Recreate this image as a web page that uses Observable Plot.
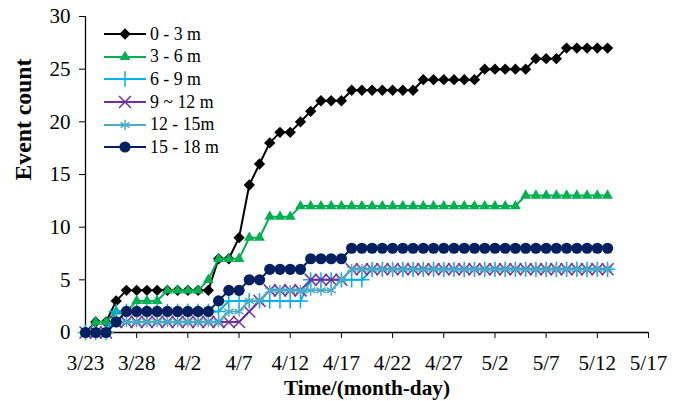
<!DOCTYPE html>
<html>
<head>
<meta charset="utf-8">
<script src="https://cdn.jsdelivr.net/npm/d3@7"></script>
<script src="https://cdn.jsdelivr.net/npm/@observablehq/plot@0.6"></script>
<style>
  html, body { margin: 0; padding: 0; background: #fff; }
  #wrap { position: relative; width: 683px; height: 401px; overflow: hidden; }
  #legend { position: absolute; left: 104px; top: 23px; }
  .row { display: flex; align-items: center; height: 22.6px; }
  .row span { margin-left: 4px; color: #000; white-space: pre; }
</style>
</head>
<body>
<div id="wrap"><div id="legend"></div></div>
<script>
const dates = ["3/23","3/24","3/25","3/26","3/27","3/28","3/29","3/30","3/31",
  "4/1","4/2","4/3","4/4","4/5","4/6","4/7","4/8","4/9","4/10","4/11","4/12","4/13","4/14","4/15",
  "4/16","4/17","4/18","4/19","4/20","4/21","4/22","4/23","4/24","4/25","4/26","4/27","4/28","4/29","4/30",
  "5/1","5/2","5/3","5/4","5/5","5/6","5/7","5/8","5/9","5/10","5/11","5/12","5/13"];

const seriesNames = ["0 - 3 m", "3 - 6 m", "6 - 9 m", "9 ~ 12 m", "12 - 15m", "15 - 18 m"];
const seriesColors = ["#000000", "#00B050", "#00B0F0", "#7030A0", "#4BACC6", "#002060"];
const seriesSymbols = ["diamond2", "triangle", "plus", "times", "asterisk", "circle"];

const s0_3 = [0,1,1,3,4,4,4,4,4,4,4,4,4,7,7,9,14,16,18,19,19,20,21,22,22,22,
  23,23,23,23,23,23,23,24,24,24,24,24,24,25,25,25,25,25,26,26,26,27,27,27,27,27];
const s3_6 = [0,1,1,2,2,3,3,3,4,4,4,4,5,7,7,7,9,9,11,11,11,
  12,12,12,12,12,12,12,12,12,12,12,12,12,12,12,12,12,12,12,12,12,12,
  13,13,13,13,13,13,13,13,13];
const s6_9 = [0,0,0,2,2,2,2,2,2,2,2,2,2,2,3,3,3,3,3,3,3,3,5,5,5,5,5,5,
  6,6,6,6,6,6,6,6,6,6,6,6,6,6,6,6,6,6,6,6,6,6,6,6];
const s9_12 = [0,0,0,1,1,1,1,1,1,1,1,1,1,1,1,1,2,3,4,4,4,4,5,5,5,5,
  6,6,6,6,6,6,6,6,6,6,6,6,6,6,6,6,6,6,6,6,6,6,6,6,6,6];
const s12_15 = [0,0,0,1,1,1,1,1,1,1,1,1,1,1,2,2,3,3,4,4,4,4,4,4,4,5,
  6,6,6,6,6,6,6,6,6,6,6,6,6,6,6,6,6,6,6,6,6,6,6,6,6,6];
const s15_18 = [0,0,0,1,2,2,2,2,2,2,2,2,2,3,4,4,5,5,6,6,6,6,7,7,7,7,
  8,8,8,8,8,8,8,8,8,8,8,8,8,8,8,8,8,8,8,8,8,8,8,8,8,8];

const seriesValues = [s0_3, s3_6, s6_9, s9_12, s12_15, s15_18];

const xTickLabels = ["3/23","3/28","4/2","4/7","4/12","4/17","4/22","4/27","5/2","5/7","5/12","5/17"];
const yTicks = [0, 5, 10, 15, 20, 25, 30];
const yDomain = [0, 30];
const xTitle = "Time/(month-day)";
const yTitle = "Event count";

// font: Times-like serif; sizes fitted to the reference's text widths
const FONT = "'Liberation Serif', 'Times New Roman', Times, 'Nimbus Roman', 'Nimbus Roman No9 L', FreeSerif, 'DejaVu Serif Condensed', serif";
const ctx = document.createElement("canvas").getContext("2d");
function fitSize(text, targetWidth, weight) {
  ctx.font = `${weight || "normal"} 100px ${FONT}`;
  const w = ctx.measureText(text).width;
  return 100 * targetWidth / w;
}
const tickFont = fitSize("3/23", 37.5);
const legendFont = fitSize("0 - 3 m", 51);
const xTitleFont = fitSize(xTitle, 166, "bold");
const yTitleFont = fitSize(yTitle, 122, "bold");

const parseMD = s => { const [m, d] = s.split("/").map(Number); return new Date(Date.UTC(2009, m - 1, d)); };
const xTicks = xTickLabels.map(parseMD);
const xDomain = [xTicks[0], xTicks[xTicks.length - 1]];

const dotR = [5.1, 4, 5, 5.5, 5, 5.6];
const marks = [];
seriesValues.forEach((vals, i) => {
  const data = vals.map((v, j) => ({date: parseMD(dates[j]), value: v}));
  marks.push(Plot.line(data, {x: "date", y: "value", stroke: seriesColors[i], strokeWidth: 2}));
  const filled = ["diamond2", "triangle", "circle"].includes(seriesSymbols[i]);
  marks.push(Plot.dot(data, filled
    ? {x: "date", y: "value", symbol: seriesSymbols[i], r: dotR[i], fill: seriesColors[i], stroke: "none"}
    : {x: "date", y: "value", symbol: seriesSymbols[i], r: dotR[i], fill: "none", stroke: seriesColors[i], strokeWidth: 1.5}));
});

const chart = Plot.plot({
  width: 683,
  height: 401,
  marginLeft: 85,
  marginRight: 35,
  marginTop: 16,
  marginBottom: 69,
  style: {fontFamily: FONT, fontSize: tickFont + "px", color: "#000", background: "#fff", overflow: "visible"},
  x: {type: "utc", domain: xDomain, label: null},
  y: {domain: yDomain, label: null},
  marks: [
    Plot.axisX({ticks: xTicks, tickFormat: d3.utcFormat("%-m/%-d"), tickSize: 6, tickPadding: 17, fontSize: tickFont, label: null}),
    Plot.axisY({ticks: yTicks, tickSize: 6, tickPadding: 9, fontSize: tickFont, label: null}),
    Plot.ruleY([yDomain[0]], {stroke: "#000", strokeWidth: 1.3}),
    Plot.ruleX([xDomain[0]], {y1: yDomain[0], y2: yDomain[1], stroke: "#000", strokeWidth: 1.3}),
    ...marks,
    Plot.text([xTitle], {frameAnchor: "bottom", dy: 62, fontWeight: "bold", fontSize: xTitleFont, fill: "#000"}),
    Plot.text([yTitle], {frameAnchor: "left", dx: -62, dy: 6, rotate: -90, fontWeight: "bold", fontSize: yTitleFont, fill: "#000"})
  ]
});
document.getElementById("wrap").prepend(chart);

// legend
const legend = d3.select("#legend").style("font-family", FONT);
const symMap = {diamond2: d3.symbolDiamond2, triangle: d3.symbolTriangle, plus: d3.symbolPlus,
  times: d3.symbolTimes, asterisk: d3.symbolAsterisk, circle: d3.symbolCircle};
seriesNames.forEach((name, i) => {
  const row = legend.append("div").attr("class", "row");
  const svg = row.append("svg").attr("width", 42).attr("height", 22);
  svg.append("line").attr("x1", 0).attr("x2", 42).attr("y1", 11).attr("y2", 11)
    .attr("stroke", seriesColors[i]).attr("stroke-width", 2);
  const filled = ["diamond2", "triangle", "circle"].includes(seriesSymbols[i]);
  svg.append("path")
    .attr("transform", "translate(21,11)")
    .attr("d", d3.symbol(symMap[seriesSymbols[i]], Math.PI * dotR[i] * dotR[i])())
    .attr("fill", filled ? seriesColors[i] : "none")
    .attr("stroke", filled ? "none" : seriesColors[i])
    .attr("stroke-width", 1.5);
  row.append("span").style("font-size", legendFont + "px").text(name);
});
</script>
</body>
</html>
